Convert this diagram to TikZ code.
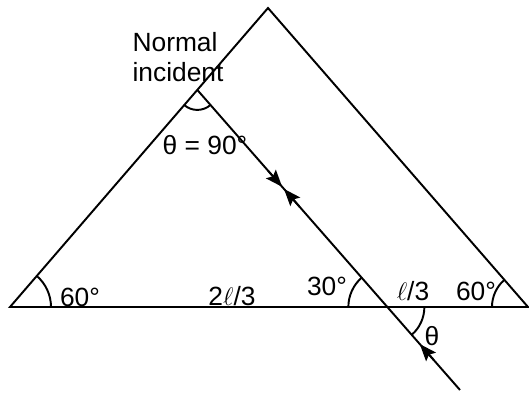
\documentclass[tikz,border=0pt]{standalone}
\usepackage{fontspec}
\setmainfont{Liberation Sans}
\usetikzlibrary{calc,angles,arrows.meta}

\begin{document}
\begin{tikzpicture}[
        >={Stealth[length=3.4mm,width=2.6mm,inset=0.6mm]},
        line width=1.1pt,
        every node/.style={font=\fontsize{15}{17}\selectfont, inner sep=0pt},
        ]
        \useasboundingbox (0,0) rectangle (10.58,7.88);

        % Prism corners
        \coordinate (L) at (0.2,1.74);
        \coordinate (T) at (5.36,7.72);
        \coordinate (R) at (10.56,1.74);

        % Ray: enters at the bottom, meets the base at C, the left face at A
        \coordinate (A) at ($(L)!0.726!(T)$);
        \coordinate (B) at (9.2,0.08);
        \coordinate (C) at (intersection of A--B and L--R);

        % Prism and ray
        \draw (L) -- (T) -- (R) -- cycle;
        \draw (A) -- (B);

        % Arrow heads on the ray
        \draw[->] ($(A)!0.27!(B)$) -- ($(A)!0.323!(B)$);
        \draw[->] ($(A)!0.39!(B)$) -- ($(A)!0.330!(B)$);
        \draw[->] ($(A)!0.90!(B)$) -- ($(A)!0.847!(B)$);

        % Angle arcs
        \pic[draw, angle radius=0.82cm] {angle = R--L--T};
        \pic[draw, angle radius=0.72cm] {angle = T--R--L};
        \pic[draw, angle radius=0.78cm] {angle = A--C--L};
        \pic[draw, angle radius=0.74cm] {angle = B--C--R};
        \pic[draw, angle radius=0.40cm] {angle = L--A--B};

        % Labels
        \node (normal) at (3.56,6.74) [align=left] {Normal\\incident};
        \node (thetaA) at (4.10,4.98) {θ = 90°};
        \node (angL)   at (1.60,1.94) {60°};
        \node (lenL)   at (4.64,1.96) {2$\ell$/3};
        \node (angC)   at (6.54,2.16) {30°};
        \node (lenR)   at (8.26,2.06) {$\ell$/3};
        \node (angR)   at (9.52,2.06) {60°};
        \node (thetaC) at (8.64,1.16) {θ};

    \end{tikzpicture}
\end{document}
